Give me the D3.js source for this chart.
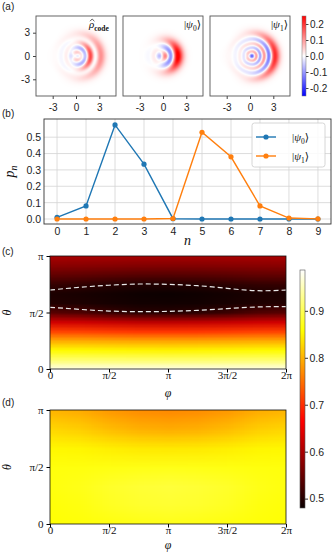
<!DOCTYPE html>
<html>
<head>
<meta charset="utf-8">
<script src="https://cdn.jsdelivr.net/npm/d3@7"></script>
<style>
  body { margin: 0; background: #fff; }
  svg { display: block; }
  .sans { font-family: "Liberation Sans", Arial, sans-serif; font-size: 10px; fill: #222; }
  .serif { font-family: "Liberation Serif", "DejaVu Serif", serif; fill: #111; }
</style>
</head>
<body>
<svg id="fig" width="332" height="552"></svg>
<script>
// ---- data ----
// (b) photon number distributions
const fockN = [0, 1, 2, 3, 4, 5, 6, 7, 8, 9];
const pPsi0 = [0.01, 0.08, 0.575, 0.335, 0.002, 0, 0, 0, 0, 0];
const pPsi1 = [0, 0, 0, 0, 0.003, 0.53, 0.38, 0.08, 0.006, 0.001];

// (a) Wigner panels
const wignerTitles = ["code", "0", "1"];
const wignerTicks = [-3, 0, 3];
const wignerCbarTicks = [0.2, 0.1, 0.0, -0.1, -0.2];

// (c) heatmap: rows are theta = 0 .. pi (step pi/12), columns phi = 0 .. 2pi (step pi/4)
const gridC = [
  [0.975, 0.975, 0.975, 0.975, 0.975, 0.975, 0.975, 0.975, 0.975],
  [0.912, 0.912, 0.911, 0.910, 0.910, 0.910, 0.911, 0.912, 0.912],
  [0.856, 0.855, 0.853, 0.851, 0.850, 0.851, 0.853, 0.855, 0.856],
  [0.796, 0.795, 0.793, 0.791, 0.790, 0.791, 0.793, 0.795, 0.796],
  [0.716, 0.714, 0.710, 0.706, 0.705, 0.706, 0.710, 0.714, 0.716],
  [0.630, 0.627, 0.621, 0.616, 0.615, 0.617, 0.622, 0.628, 0.631],
  [0.540, 0.532, 0.515, 0.503, 0.502, 0.506, 0.518, 0.534, 0.541],
  [0.497, 0.494, 0.489, 0.486, 0.485, 0.486, 0.490, 0.495, 0.498],
  [0.493, 0.490, 0.486, 0.482, 0.481, 0.483, 0.487, 0.491, 0.493],
  [0.512, 0.508, 0.501, 0.497, 0.497, 0.499, 0.504, 0.510, 0.512],
  [0.546, 0.544, 0.540, 0.537, 0.536, 0.538, 0.541, 0.545, 0.546],
  [0.576, 0.575, 0.573, 0.571, 0.570, 0.571, 0.573, 0.575, 0.576],
  [0.600, 0.600, 0.599, 0.598, 0.598, 0.598, 0.599, 0.600, 0.600]
];
// dashed contours (theta / pi) at phi = 0 .. 2pi step pi/4
const contourPhi = [0, 0.25, 0.5, 0.75, 1, 1.25, 1.5, 1.75, 2];
const contourUpper = [0.699, 0.723, 0.741, 0.752, 0.749, 0.737, 0.714, 0.693, 0.699];
const contourLower = [0.546, 0.528, 0.513, 0.507, 0.510, 0.519, 0.534, 0.549, 0.552];

// (d) heatmap: rows theta = 0 .. pi (step pi/6), columns phi = 0 .. 2pi (step pi/4)
const gridD = [
  [0.860, 0.862, 0.865, 0.868, 0.870, 0.868, 0.865, 0.862, 0.860],
  [0.862, 0.866, 0.875, 0.881, 0.883, 0.881, 0.875, 0.866, 0.862],
  [0.865, 0.870, 0.879, 0.885, 0.888, 0.885, 0.879, 0.870, 0.865],
  [0.864, 0.865, 0.867, 0.869, 0.870, 0.869, 0.867, 0.865, 0.864],
  [0.853, 0.851, 0.846, 0.842, 0.841, 0.842, 0.846, 0.851, 0.853],
  [0.828, 0.821, 0.808, 0.799, 0.796, 0.799, 0.808, 0.821, 0.828],
  [0.802, 0.795, 0.781, 0.772, 0.769, 0.772, 0.781, 0.795, 0.802]
];
const hotCbarTicks = [0.9, 0.8, 0.7, 0.6, 0.5];
const angleTicks = [0, 0.5, 1, 1.5, 2];
const angleLabels = ["0", "π/2", "π", "3π/2", "2π"];
const thetaLabels = ["0", "π/2", "π"];

// ---- helpers ----
const svg = d3.select("#fig");
const bwr = d3.scaleLinear().domain([-0.25, 0, 0.25]).range(["#0000ff", "#ffffff", "#ff0000"]).clamp(true);
const hot = d3.scaleLinear().domain([0.48, 0.665, 0.858, 0.987])
  .range(["#0b0000", "#ff0000", "#ffff00", "#ffffff"]).clamp(true);

function fact(k) { let f = 1; for (let i = 2; i <= k; i++) f *= i; return f; }
function laguerre(m, a, x) {
  if (m === 0) return 1;
  let l0 = 1, l1 = 1 + a - x;
  for (let k = 1; k < m; k++) {
    const l2 = ((2 * k + 1 + a - x) * l1 - (k + a) * l0) / (k + 1);
    l0 = l1; l1 = l2;
  }
  return l1;
}
// Wigner function of sum_n c_n |n>, x and p quadratures (vacuum width 1/sqrt2)
function wigner(c, x, p) {
  const re = Math.SQRT2 * x, im = Math.SQRT2 * p;
  const B = re * re + im * im, ang = Math.atan2(im, re), rad = Math.sqrt(B);
  let W = 0;
  for (let m = 0; m < c.length; m++) {
    if (!c[m]) continue;
    const sg = m % 2 ? -1 : 1;
    W += c[m] * c[m] * sg * laguerre(m, 0, B);
    for (let n = m + 1; n < c.length; n++) {
      if (!c[n]) continue;
      const d = n - m;
      W += 2 * c[m] * c[n] * sg * Math.pow(rad, d) * Math.cos(d * ang) *
        Math.sqrt(fact(m) / fact(n)) * laguerre(m, d, B);
    }
  }
  return W * Math.exp(-B / 2) / Math.PI;
}

const amp0 = pPsi0.map(Math.sqrt), amp1 = pPsi1.map(Math.sqrt);
const wigFns = [
  (x, p) => 0.5 * (wigner(amp0, x, p) + wigner(amp1, x, p)),
  (x, p) => wigner(amp0, x, p),
  (x, p) => wigner(amp1, x, p)
];

// ---- (a) ----
const aSize = 80, aTop = 16, aLeft = [36, 123, 210], wL = 5.15;
const xW = d3.scaleLinear().domain([-wL, wL]).range([0, aSize]);
const yW = d3.scaleLinear().domain([-wL, wL]).range([aSize, 0]);

svg.append("text").attr("class", "sans").attr("x", 2).attr("y", 10).text("(a)");

wigFns.forEach((fn, k) => {
  const g = svg.append("g").attr("transform", `translate(${aLeft[k]},${aTop})`);
  const N = 160;
  const cv = document.createElement("canvas");
  cv.width = N; cv.height = N;
  const ctx = cv.getContext("2d");
  const img = ctx.createImageData(N, N);
  for (let j = 0; j < N; j++) {
    for (let i = 0; i < N; i++) {
      const x = xW.invert((i + 0.5) * aSize / N), p = yW.invert((j + 0.5) * aSize / N);
      const c = d3.rgb(bwr(fn(x, p)));
      const o = 4 * (j * N + i);
      img.data[o] = c.r; img.data[o + 1] = c.g; img.data[o + 2] = c.b; img.data[o + 3] = 255;
    }
  }
  ctx.putImageData(img, 0, 0);
  g.append("image").attr("href", cv.toDataURL()).attr("width", aSize).attr("height", aSize)
    .attr("preserveAspectRatio", "none");
  g.append("rect").attr("width", aSize).attr("height", aSize).attr("fill", "none")
    .attr("stroke", "#555").attr("stroke-width", 0.9);
  const ax = g.append("g").attr("transform", `translate(0,${aSize})`)
    .call(d3.axisBottom(xW).tickValues(wignerTicks).tickSize(3).tickFormat(d => String(d)));
  ax.select(".domain").remove();
  ax.selectAll("line").attr("stroke", "#444");
  ax.selectAll("text").attr("class", "sans").attr("dy", "0.9em");
  if (k === 0) {
    const ay = g.append("g").call(d3.axisLeft(yW).tickValues(wignerTicks).tickSize(3).tickFormat(d => String(d)));
    ay.select(".domain").remove();
    ay.selectAll("line").attr("stroke", "#444");
    ay.selectAll("text").attr("class", "sans");
  }
  if (k === 0) {
    const t = g.append("text").attr("class", "serif").attr("x", 53).attr("y", 12).style("font-size", "11px");
    t.append("tspan").style("font-style", "italic").text("ρ");
    t.append("tspan").attr("dy", 2.5).style("font-size", "7.5px").style("font-weight", "bold").text(wignerTitles[k]);
    // hat over rho
    g.append("path").attr("d", "M54,5.2 L56.2,3 L58.4,5.2").attr("fill", "none")
      .attr("stroke", "#111").attr("stroke-width", 0.7);
  } else {
    const t = g.append("text").attr("class", "serif").attr("text-anchor", "end")
      .attr("x", aSize - 2).attr("y", 12).style("font-size", "11px");
    t.append("tspan").text("|");
    t.append("tspan").style("font-style", "italic").text("ψ");
    t.append("tspan").attr("dy", 2.5).style("font-size", "7.5px").text(wignerTitles[k]);
    t.append("tspan").attr("dy", -2.5).text("⟩");
  }
});

// colorbar (a)
{
  const cbx = 302, cbw = 4;
  const yC = d3.scaleLinear().domain([-0.25, 0.25]).range([aTop + aSize, aTop]);
  const defs = svg.append("defs");
  const gr = defs.append("linearGradient").attr("id", "gBwr").attr("x1", 0).attr("y1", 1).attr("x2", 0).attr("y2", 0);
  [-0.25, 0, 0.25].forEach(v => gr.append("stop").attr("offset", (v + 0.25) / 0.5).attr("stop-color", bwr(v)));
  svg.append("rect").attr("x", cbx).attr("y", aTop).attr("width", cbw).attr("height", aSize).attr("fill", "url(#gBwr)")
    .attr("stroke", "#777").attr("stroke-width", 0.5);
  const ac = svg.append("g").attr("transform", `translate(${cbx + cbw},0)`)
    .call(d3.axisRight(yC).tickValues(wignerCbarTicks).tickSize(2.5).tickFormat(d => d3.format(".1f")(d).replace("−", "-")));
  ac.select(".domain").remove();
  ac.selectAll("line").attr("stroke", "#444");
  ac.selectAll("text").attr("class", "sans").attr("x", 4);
}

// ---- (b) ----
{
  const m = { l: 44, r: 331, t: 119, b: 224 };
  const x = d3.scaleLinear().domain([-0.45, 9.45]).range([m.l, m.r]);
  const y = d3.scaleLinear().domain([-0.0305, 0.611]).range([m.b, m.t]);
  svg.append("text").attr("class", "sans").attr("x", 2).attr("y", 117).text("(b)");
  const g = svg.append("g");
  g.selectAll(".gx").data(fockN).join("line").attr("x1", d => x(d)).attr("x2", d => x(d))
    .attr("y1", m.t).attr("y2", m.b).attr("stroke", "#d4d4d4").attr("stroke-width", 0.8);
  const yt = [0, 0.1, 0.2, 0.3, 0.4, 0.5];
  g.selectAll(".gy").data(yt).join("line").attr("y1", d => y(d)).attr("y2", d => y(d))
    .attr("x1", m.l).attr("x2", m.r).attr("stroke", "#d4d4d4").attr("stroke-width", 0.8);
  const ax = g.append("g").attr("transform", `translate(0,${m.b})`)
    .call(d3.axisBottom(x).tickValues(fockN).tickSize(0).tickPadding(4));
  ax.select(".domain").remove();
  ax.selectAll("text").attr("class", "sans").style("font-size", "10.5px");
  const ay = g.append("g").attr("transform", `translate(${m.l},0)`)
    .call(d3.axisLeft(y).tickValues(yt).tickSize(0).tickPadding(3).tickFormat(d3.format(".1f")));
  ay.select(".domain").remove();
  ay.selectAll("text").attr("class", "sans").style("font-size", "10.5px");

  const series = [{ p: pPsi0, c: "#1f77b4", lab: "0" }, { p: pPsi1, c: "#ff7f0e", lab: "1" }];
  const line = d3.line().x((d, i) => x(fockN[i])).y(d => y(d));
  series.forEach(s => {
    g.append("path").attr("d", line(s.p)).attr("fill", "none").attr("stroke", s.c).attr("stroke-width", 1.4);
    g.selectAll(null).data(s.p).join("circle").attr("cx", (d, i) => x(fockN[i])).attr("cy", d => y(d))
      .attr("r", 2.6).attr("fill", s.c);
  });
  g.append("rect").attr("x", m.l).attr("y", m.t).attr("width", m.r - m.l).attr("height", m.b - m.t)
    .attr("fill", "none").attr("stroke", "#333").attr("stroke-width", 0.9);

  // legend
  const lg = g.append("g").attr("transform", "translate(252,123)");
  lg.append("rect").attr("width", 73).attr("height", 44).attr("rx", 2.5).attr("fill", "#fff")
    .attr("fill-opacity", 0.85).attr("stroke", "#ccc").attr("stroke-width", 0.8);
  series.forEach((s, i) => {
    const yy = 14 + i * 19;
    lg.append("line").attr("x1", 4).attr("x2", 24).attr("y1", yy).attr("y2", yy).attr("stroke", s.c).attr("stroke-width", 1.4);
    lg.append("circle").attr("cx", 14).attr("cy", yy).attr("r", 2.6).attr("fill", s.c);
    const t = lg.append("text").attr("class", "serif").attr("x", 40).attr("y", yy + 4).style("font-size", "11px");
    t.append("tspan").text("|");
    t.append("tspan").style("font-style", "italic").text("ψ");
    t.append("tspan").attr("dy", 2.5).style("font-size", "7.5px").text(s.lab);
    t.append("tspan").attr("dy", -2.5).text("⟩");
  });

  const yl = svg.append("text").attr("class", "serif").attr("transform", `translate(14,${(m.t + m.b) / 2}) rotate(-90)`)
    .attr("text-anchor", "middle").style("font-size", "14px");
  yl.append("tspan").style("font-style", "italic").text("p");
  yl.append("tspan").attr("dy", 3).style("font-size", "10px").style("font-style", "italic").text("n");
  svg.append("text").attr("class", "serif").attr("x", (m.l + m.r) / 2).attr("y", 245).attr("text-anchor", "middle")
    .style("font-size", "14px").style("font-style", "italic").text("n");
}

// ---- (c), (d) ----
const hmL = 50, hmR = 286;
const xPhi = d3.scaleLinear().domain([0, 2]).range([hmL, hmR]);

function heatPanel(grid, top, bottom, label, labelY, tickBase, phiY, contours) {
  const rows = grid.length, cols = grid[0].length;
  const yTh = d3.scaleLinear().domain([0, 1]).range([bottom, top]);
  const cv = document.createElement("canvas");
  cv.width = cols; cv.height = rows;
  const ctx = cv.getContext("2d");
  const img = ctx.createImageData(cols, rows);
  for (let r = 0; r < rows; r++) {
    for (let c = 0; c < cols; c++) {
      const col = d3.rgb(hot(grid[rows - 1 - r][c]));
      const o = 4 * (r * cols + c);
      img.data[o] = col.r; img.data[o + 1] = col.g; img.data[o + 2] = col.b; img.data[o + 3] = 255;
    }
  }
  ctx.putImageData(img, 0, 0);
  const cw = (hmR - hmL) / (cols - 1), ch = (bottom - top) / (rows - 1);
  const id = "clip" + label;
  svg.append("clipPath").attr("id", id).append("rect")
    .attr("x", hmL).attr("y", top).attr("width", hmR - hmL).attr("height", bottom - top);
  svg.append("image").attr("href", cv.toDataURL()).attr("clip-path", `url(#${id})`)
    .attr("x", hmL - cw / 2).attr("y", top - ch / 2).attr("width", hmR - hmL + cw).attr("height", bottom - top + ch)
    .attr("preserveAspectRatio", "none");
  if (contours) {
    const ln = d3.line().x((d, i) => xPhi(contourPhi[i])).y(d => yTh(d)).curve(d3.curveNatural);
    contours.forEach(cs => svg.append("path").attr("d", ln(cs)).attr("fill", "none")
      .attr("stroke", "#e8e8e8").attr("stroke-width", 1.2).attr("stroke-dasharray", "5,3"));
  }
  svg.append("rect").attr("x", hmL).attr("y", top).attr("width", hmR - hmL).attr("height", bottom - top)
    .attr("fill", "none").attr("stroke", "#111").attr("stroke-width", 0.8);
  const ax = svg.append("g").attr("transform", `translate(0,${bottom})`)
    .call(d3.axisBottom(xPhi).tickValues(angleTicks).tickSize(3.5).tickFormat((d, i) => angleLabels[i]));
  ax.select(".domain").remove();
  ax.selectAll("text").attr("class", "serif").style("font-size", "11px")
    .attr("dy", null).attr("y", tickBase - bottom);
  const ay = svg.append("g").attr("transform", `translate(${hmL},0)`)
    .call(d3.axisLeft(yTh).tickValues([0, 0.5, 1]).tickSize(3.5).tickFormat((d, i) => thetaLabels[i]));
  ay.select(".domain").remove();
  ay.selectAll("text").attr("class", "serif").style("font-size", "11px");
  svg.append("text").attr("class", "serif").attr("transform", `translate(11,${(top + bottom) / 2}) rotate(-90)`)
    .attr("text-anchor", "middle").style("font-size", "12px").style("font-style", "italic").text("θ");
  svg.append("text").attr("class", "serif").attr("x", (hmL + hmR) / 2).attr("y", phiY).attr("text-anchor", "middle")
    .style("font-size", "12px").style("font-style", "italic").text("φ");
  svg.append("text").attr("class", "sans").attr("x", 2).attr("y", labelY).text(`(${label})`);
}

heatPanel(gridC, 256, 369, "c", 255, 379, 397, [contourUpper, contourLower]);
heatPanel(gridD, 410, 524, "d", 406, 534, 549, null);

// shared colorbar for (c), (d)
{
  const cbx = 300, cbw = 5, ct = 270, cb = 508;
  const yC = d3.scaleLinear().domain([0.48, 0.987]).range([cb, ct]);
  const gr = svg.append("defs").append("linearGradient").attr("id", "gHot")
    .attr("x1", 0).attr("y1", 1).attr("x2", 0).attr("y2", 0);
  hot.domain().forEach(v => gr.append("stop").attr("offset", (v - 0.48) / (0.987 - 0.48)).attr("stop-color", hot(v)));
  svg.append("rect").attr("x", cbx).attr("y", ct).attr("width", cbw).attr("height", cb - ct).attr("fill", "url(#gHot)")
    .attr("stroke", "#555").attr("stroke-width", 0.6);
  const ac = svg.append("g").attr("transform", `translate(${cbx + cbw},0)`)
    .call(d3.axisRight(yC).tickValues(hotCbarTicks).tickSize(3).tickFormat(d3.format(".1f")));
  ac.select(".domain").remove();
  ac.selectAll("line").attr("stroke", "#333");
  ac.selectAll("text").attr("class", "sans").style("font-size", "10.5px").attr("x", 4.5);
}
</script>
</body>
</html>
